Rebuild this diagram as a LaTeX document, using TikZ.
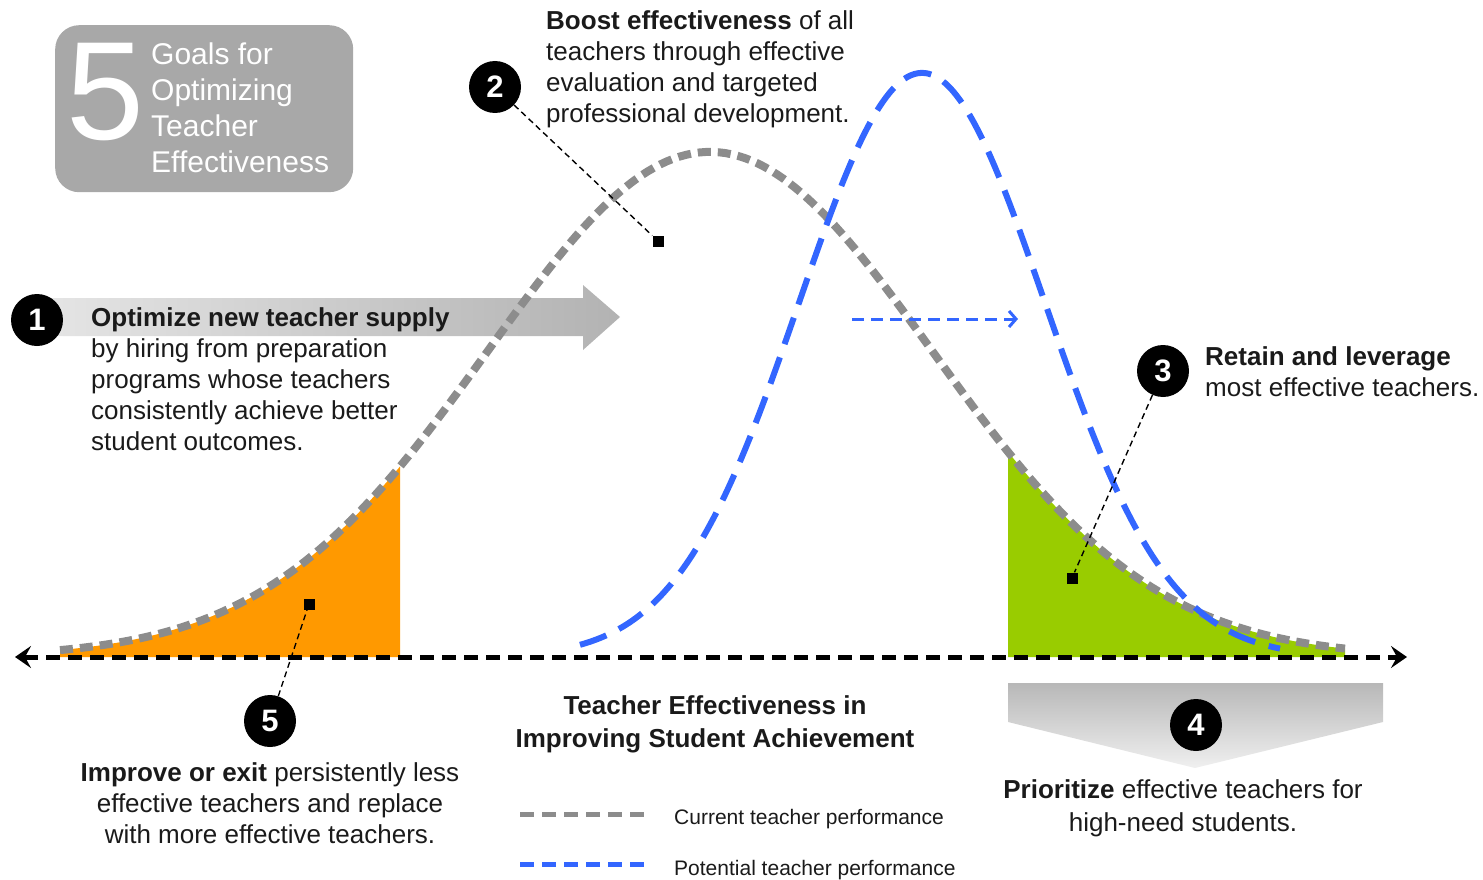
\documentclass[tikz,border=0pt]{standalone}
\usepackage{fontspec}
\setmainfont{Liberation Sans}
\usetikzlibrary{arrows.meta,shapes.geometric}
\definecolor{curgrey}{HTML}{8C8C8C}
\definecolor{potblue}{HTML}{3366FF}
\definecolor{lowor}{HTML}{FF9900}
\definecolor{higr}{HTML}{99CC00}
\definecolor{boxgrey}{HTML}{A8A8A8}
\definecolor{txt}{HTML}{1A1A1A}
\begin{document}
\begin{tikzpicture}[x=1pt,y=-1pt,
  num/.style={circle, fill=black, minimum size=52pt, inner sep=0pt, text=white, font=\fontsize{31}{31}\selectfont\bfseries},
  marker/.style={rectangle, fill=black, minimum size=11pt, inner sep=0pt},
  leader/.style={draw=black, line width=1.4pt, dash pattern=on 6pt off 4pt},
  curcurve/.style={draw=curgrey, line width=8pt, dash pattern=on 13pt off 7pt},
  potcurve/.style={draw=potblue, line width=6pt, dash pattern=on 28pt off 14pt},
  body/.style={font=\fontsize{26}{31}\selectfont, inner sep=0pt, text=txt},
  legtxt/.style={font=\fontsize{21}{21}\selectfont, inner sep=0pt, text=txt, anchor=west},
  axis/.style={draw=black, line width=5pt, dash pattern=on 14pt off 8pt}
]
\useasboundingbox (0,0) rectangle (1483,880);

% title box
\node[draw=none, fill=boxgrey, rounded corners=24pt, minimum width=298pt, minimum height=167pt, anchor=north west, inner sep=0pt] (box) at (55,25) {};
\node[font=\fontsize{140}{140}\selectfont, text=white, anchor=base west, inner sep=0pt] (five) at (66,140) {5};
\node[font=\fontsize{30}{36}\selectfont, text=white, anchor=north west, inner sep=0pt, align=left] (boxtxt) at (151,43) {Goals for\\Optimizing\\Teacher\\Effectiveness};

% gradient arrow for goal 1
\shade[left color=black!10, right color=black!30]
  (40,298) -- (583,298) -- (583,285) -- (620,317) -- (583,350) -- (583,336) -- (40,336) -- cycle;

% chevron for goal 4
\shade[top color=black!28, bottom color=black!6]
  (1008,683) -- (1383,683) -- (1383,722) -- (1195,768) -- (1008,722) -- cycle;

% fills under current curve
\fill[lowor] plot[domain=60:400, samples=60] (\x, {657-505*exp(-0.5*((\x-710)/222)^2)}) -- (400,657) -- (60,657) -- cycle;
\fill[higr] plot[domain=1008:1345, samples=60] (\x, {657-505*exp(-0.5*((\x-710)/222)^2)}) -- (1345,657) -- (1008,657) -- cycle;

% curves
\draw[curcurve] plot[domain=60:1345, samples=200] (\x, {657-505*exp(-0.5*((\x-710)/222)^2)});
\draw[potcurve] plot[domain=580:1280, samples=200] (\x, {657-584*exp(-0.5*((\x-922)/123)^2)});

% axis
\coordinate (axl) at (15,657);
\coordinate (axr) at (1407,657);
\draw[axis, {Stealth[length=16pt,width=22pt,inset=6pt]}-{Stealth[length=16pt,width=22pt,inset=6pt]}] (axl) -- (axr);

% shift arrow
\coordinate (shA) at (852,319);
\coordinate (shB) at (1018,319);
\draw[draw=potblue, line width=3pt, dash pattern=on 12pt off 7pt, -{Straight Barb[length=7pt,width=16pt,line width=3pt]}] (shA) -- (shB);

% numbered circles and markers
\node[num] (c1) at (37,320) {1};
\node[num] (c2) at (495,87) {2};
\node[num] (c3) at (1163,371) {3};
\node[num] (c4) at (1196,725) {4};
\node[num] (c5) at (270,721) {5};

\node[marker] (m2) at (658,241) {};
\node[marker] (m3) at (1072,578) {};
\node[marker] (m5) at (309,604) {};

\draw[leader] (c2) -- (m2);
\draw[leader] (c3) -- (m3);
\draw[leader] (c5) -- (m5);

% texts
\node[body, anchor=north west, align=left] (t1) at (91,307) {{\bfseries Optimize new teacher supply}\\by hiring from preparation\\programs whose teachers\\consistently achieve better\\student outcomes.};
\node[body, anchor=north west, align=left] (t2) at (546,10) {{\bfseries Boost effectiveness} of all\\teachers through effective\\evaluation and targeted\\professional development.};
\node[body, anchor=north west, align=left] (t3) at (1205,346) {{\bfseries Retain and leverage}\\most effective teachers.};
\node[body, anchor=north, align=center, font=\fontsize{26}{33}\selectfont] (t4) at (1183,779) {{\bfseries Prioritize} effective teachers for\\high-need students.};
\node[body, anchor=north, align=center] (t5) at (270,762) {{\bfseries Improve or exit} persistently less\\effective teachers and replace\\with more effective teachers.};
\node[body, anchor=north, align=center, font=\fontsize{26}{33}\selectfont\bfseries] (title) at (715,695) {Teacher Effectiveness in\\Improving Student Achievement};

% legend
\coordinate (lg1a) at (520,814);
\coordinate (lg1b) at (648,814);
\coordinate (lg2a) at (520,864);
\coordinate (lg2b) at (648,864);
\draw[draw=curgrey, line width=5pt, dash pattern=on 14pt off 8pt] (lg1a) -- (lg1b);
\draw[draw=potblue, line width=5pt, dash pattern=on 14pt off 8pt] (lg2a) -- (lg2b);
\node[legtxt] (leg1) at (674,819) {Current teacher performance};
\node[legtxt] (leg2) at (674,870) {Potential teacher performance};
\end{tikzpicture}
\end{document}
